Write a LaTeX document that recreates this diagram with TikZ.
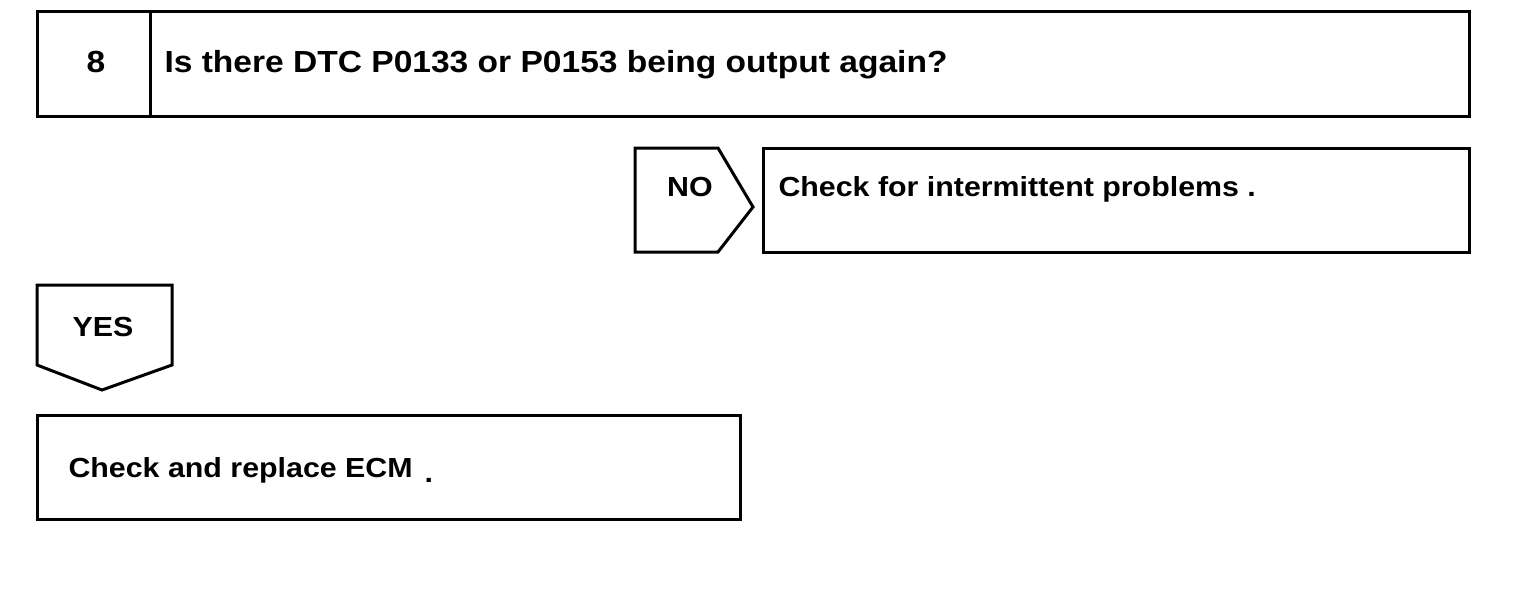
\documentclass[tikz,border=0pt]{standalone}
\usepackage{fontspec}
\setmainfont{Liberation Sans}
\begin{document}
\begin{tikzpicture}[x=1pt,y=-1pt,line width=3pt,line join=miter,
  lbl/.style={font=\fontsize{27.6}{30}\selectfont\bfseries\addfontfeature{FakeStretch=1.1},anchor=base west,inner sep=0pt},
  big/.style={lbl,font=\fontsize{30.5}{32}\selectfont\bfseries\addfontfeature{FakeStretch=1.1}}]
\useasboundingbox (0,0) rectangle (1520,592);
% top question box
\draw (37,11) rectangle (1469,116);
\draw (150,11) -- (150,116);
\node[big,anchor=base] (num) at (96,72) {8};
\node[big] (q) at (163,72) {Is there DTC P0133 or P0153 being output again?};
% NO tag
\draw (635,148) -- (718,148) -- (753,207) -- (718,252) -- (635,252) -- cycle;
\node[lbl,anchor=base] (no) at (690,196) {NO};
\draw (763,148) rectangle (1469,252);
\node[lbl] (intermittent) at (777,196) {Check for intermittent problems .};
% YES tag
\draw (37,285) -- (172,285) -- (172,365) -- (102,390) -- (37,365) -- cycle;
\node[lbl,anchor=base] (yes) at (103,336) {YES};
\draw (37,415) rectangle (740,519);
\node[lbl] (ecm) at (67,477) {Check and replace ECM\hspace{12pt}\raisebox{-5pt}{.}};
\end{tikzpicture}
\end{document}
